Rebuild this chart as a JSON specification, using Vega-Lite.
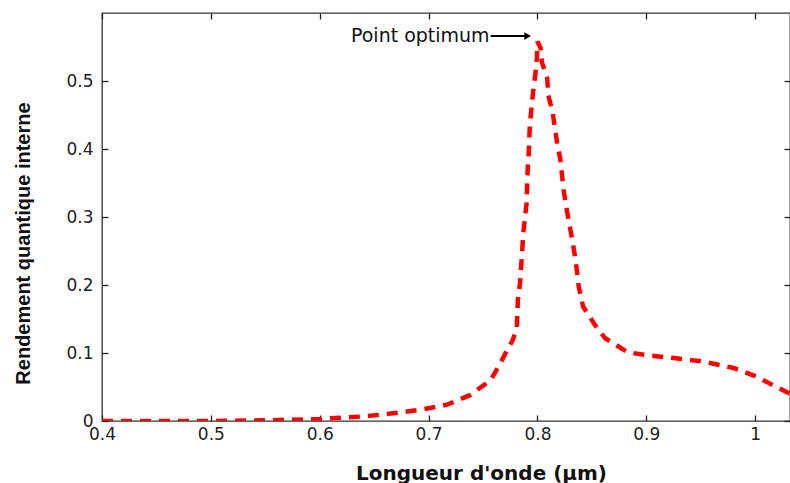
{
  "$schema": "https://vega.github.io/schema/vega-lite/v6.json",
  "width": 688,
  "height": 408,
  "autosize": {"type": "none"},
  "padding": {"left": 102, "top": 13, "right": 0, "bottom": 62},
  "background": "white",
  "config": {
    "view": {"stroke": "#333333", "strokeWidth": 1.3},
    "axis": {
      "grid": false,
      "domain": false,
      "tickColor": "#222222",
      "tickWidth": 1.3,
      "labelFont": "DejaVu Sans",
      "labelFontSize": 17,
      "labelColor": "#222222",
      "labelFlush": false,
      "labelOverlap": false
    }
  },
  "datasets": {
    "curve": [
      {"wl": 0.4, "r": 0},
      {"wl": 0.45, "r": 0},
      {"wl": 0.5, "r": 0},
      {"wl": 0.55, "r": 0.001},
      {"wl": 0.6, "r": 0.003},
      {"wl": 0.643, "r": 0.007},
      {"wl": 0.671, "r": 0.012},
      {"wl": 0.694, "r": 0.017},
      {"wl": 0.717, "r": 0.024},
      {"wl": 0.738, "r": 0.038},
      {"wl": 0.757, "r": 0.06},
      {"wl": 0.766, "r": 0.085},
      {"wl": 0.772, "r": 0.104},
      {"wl": 0.777, "r": 0.118},
      {"wl": 0.781, "r": 0.135},
      {"wl": 0.782, "r": 0.178},
      {"wl": 0.784, "r": 0.203},
      {"wl": 0.786, "r": 0.25},
      {"wl": 0.787, "r": 0.276},
      {"wl": 0.79, "r": 0.32},
      {"wl": 0.791, "r": 0.369},
      {"wl": 0.792, "r": 0.393},
      {"wl": 0.793, "r": 0.435},
      {"wl": 0.796, "r": 0.484},
      {"wl": 0.798, "r": 0.509},
      {"wl": 0.7995, "r": 0.534},
      {"wl": 0.8, "r": 0.558},
      {"wl": 0.803, "r": 0.548},
      {"wl": 0.804, "r": 0.528},
      {"wl": 0.809, "r": 0.504},
      {"wl": 0.81, "r": 0.479},
      {"wl": 0.814, "r": 0.454},
      {"wl": 0.816, "r": 0.431},
      {"wl": 0.818, "r": 0.41},
      {"wl": 0.821, "r": 0.385},
      {"wl": 0.824, "r": 0.34},
      {"wl": 0.827, "r": 0.31},
      {"wl": 0.832, "r": 0.266},
      {"wl": 0.835, "r": 0.237},
      {"wl": 0.838, "r": 0.197},
      {"wl": 0.842, "r": 0.168},
      {"wl": 0.853, "r": 0.141},
      {"wl": 0.862, "r": 0.122},
      {"wl": 0.883, "r": 0.101},
      {"wl": 0.9, "r": 0.097},
      {"wl": 0.95, "r": 0.088},
      {"wl": 0.98, "r": 0.078},
      {"wl": 1.0, "r": 0.066},
      {"wl": 1.032, "r": 0.04}
    ],
    "note": [
      {"x": 0.757, "x2": 0.789, "y": 0.566, "tip": 0.791, "label": "Point optimum"}
    ]
  },
  "layer": [
    {
      "data": {"name": "curve"},
      "mark": {"type": "line", "color": "#ff0000", "strokeWidth": 4.5, "strokeDash": [11, 8], "clip": true},
      "encoding": {
        "x": {
          "field": "wl", "type": "quantitative",
          "scale": {"domain": [0.4, 1.032], "nice": false, "zero": false},
          "axis": {
            "orient": "bottom",
            "values": [0.4, 0.5, 0.6, 0.7, 0.8, 0.9, 1.0],
            "format": "~g",
            "ticks": false,
            "labelPadding": 5,
            "title": "Longueur d'onde (µm)",
            "titleFont": "DejaVu Sans",
            "titleFontSize": 20,
            "titleFontWeight": "bold",
            "titleColor": "#111111",
            "titleX": 379,
            "titleY": 58,
            "titleAnchor": null,
            "titleAlign": "center",
            "titleBaseline": "alphabetic"
          }
        },
        "y": {
          "field": "r", "type": "quantitative",
          "scale": {"domain": [0, 0.6], "nice": false},
          "axis": {
            "orient": "left",
            "values": [0, 0.1, 0.2, 0.3, 0.4, 0.5],
            "format": "~g",
            "ticks": false,
            "labelPadding": 9,
            "title": "Rendement quantique interne",
            "titleFont": "Liberation Sans",
            "titleFontSize": 20,
            "titleFontWeight": "bold",
            "titleColor": "#111111",
            "titleAngle": 270,
            "titleX": -79,
            "titleY": 230,
            "titleAnchor": null,
            "titleAlign": "center",
            "titleBaseline": "middle"
          }
        }
      }
    },
    {
      "data": {"name": "note"},
      "mark": {"type": "text", "align": "right", "baseline": "middle", "font": "DejaVu Sans", "fontSize": 19, "color": "#111111", "dx": -1},
      "encoding": {
        "x": {
          "field": "x", "type": "quantitative",
          "scale": {"domain": [0.4, 1.032], "nice": false, "zero": false},
          "axis": {"orient": "top", "values": [0.4, 0.5, 0.6, 0.7, 0.8, 0.9, 1.0], "labels": false, "tickSize": 6, "offset": -6, "title": null}
        },
        "y": {
          "field": "y", "type": "quantitative",
          "scale": {"domain": [0, 0.6], "nice": false},
          "axis": {"orient": "right", "values": [0, 0.1, 0.2, 0.3, 0.4, 0.5], "labels": false, "tickSize": 6, "offset": -6, "title": null}
        },
        "text": {"field": "label"}
      }
    },
    {
      "data": {"name": "note"},
      "mark": {"type": "rule", "color": "#000000", "strokeWidth": 2},
      "encoding": {
        "x": {
          "field": "x", "type": "quantitative",
          "axis": {"orient": "bottom", "values": [0.4, 0.5, 0.6, 0.7, 0.8, 0.9, 1.0], "labels": false, "tickSize": 6, "offset": -6, "title": null}
        },
        "x2": {"field": "x2"},
        "y": {
          "field": "y", "type": "quantitative",
          "axis": {"orient": "left", "values": [0, 0.1, 0.2, 0.3, 0.4, 0.5], "labels": false, "tickSize": 6, "offset": -6, "title": null}
        }
      }
    },
    {
      "data": {"name": "note"},
      "mark": {"type": "point", "shape": "triangle-right", "filled": true, "color": "#000000", "size": 60, "opacity": 1},
      "encoding": {
        "x": {"field": "tip", "type": "quantitative", "axis": null},
        "y": {"field": "y", "type": "quantitative", "axis": null}
      }
    }
  ],
  "resolve": {"axis": {"x": "independent", "y": "independent"}}
}
